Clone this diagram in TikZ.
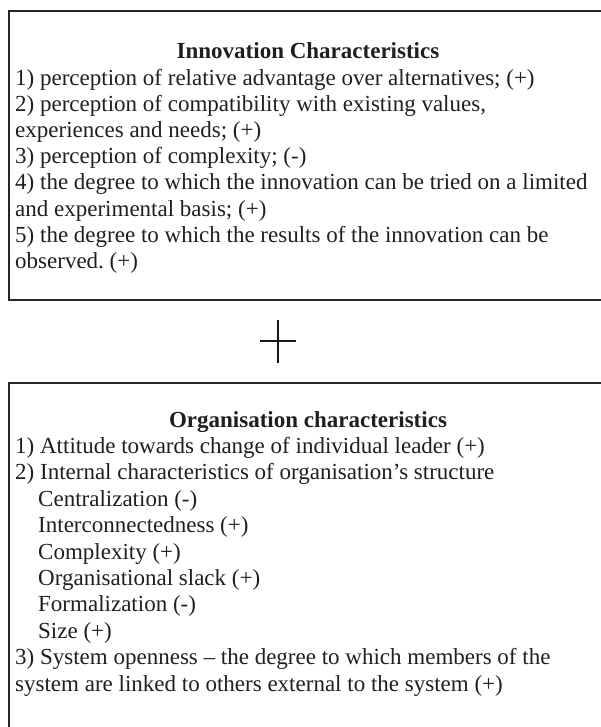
\documentclass[tikz,border=0pt]{standalone}
\usepackage{fontspec}
\setmainfont{Liberation Serif}
\frenchspacing
\begin{document}
\begin{tikzpicture}[x=1pt,y=-1pt,
  frame/.style={draw=black!85,line width=2pt},
  plusline/.style={draw=black!90,line width=1.4pt},
  txt/.style={anchor=base west,inner sep=0pt,font=\fontsize{23}{26}\selectfont,text=black!88},
  ttl/.style={anchor=base,inner sep=0pt,font=\fontsize{23}{26}\selectfont\bfseries,text=black!88}]
\useasboundingbox (0,0) rectangle (600,727);

% upper panel
\draw[frame] (9,11) rectangle (640,300);
\node[ttl] (innovtitle) at (308,59) {Innovation Characteristics};
\foreach \t [count=\i] in {
  {1) perception of relative advantage over alternatives; (+)},
  {2) perception of compatibility with existing values,},
  {experiences and needs; (+)},
  {3) perception of complexity; (-)},
  {4) the degree to which the innovation can be tried on a limited},
  {and experimental basis; (+)},
  {5) the degree to which the results of the innovation can be},
  {observed. (+)}}
  \node[txt] (inn\i) at (15,{59+26.2*\i}) {\t};

% plus sign between the panels
\coordinate (pl) at (260,341);
\coordinate (pr) at (296,341);
\coordinate (pt) at (278,320);
\coordinate (pb) at (278,363);
\draw[plusline] (pl) -- (pr) (pt) -- (pb);

% lower panel
\draw[frame] (9,383) rectangle (640,760);
\node[ttl] (orgtitle) at (308,427) {Organisation characteristics};
\foreach \t/\x [count=\i] in {
  {1) Attitude towards change of individual leader (+)}/15,
  {2) Internal characteristics of organisation’s structure}/15,
  {Centralization (-)}/38,
  {Interconnectedness (+)}/38,
  {Complexity (+)}/38,
  {Organisational slack (+)}/38,
  {Formalization (-)}/38,
  {Size (+)}/38,
  {3) System openness – the degree to which members of the}/15,
  {system are linked to others external to the system (+)}/15}
  \node[txt] (org\i) at (\x,{427+26.4*\i}) {\t};
\end{tikzpicture}
\end{document}
